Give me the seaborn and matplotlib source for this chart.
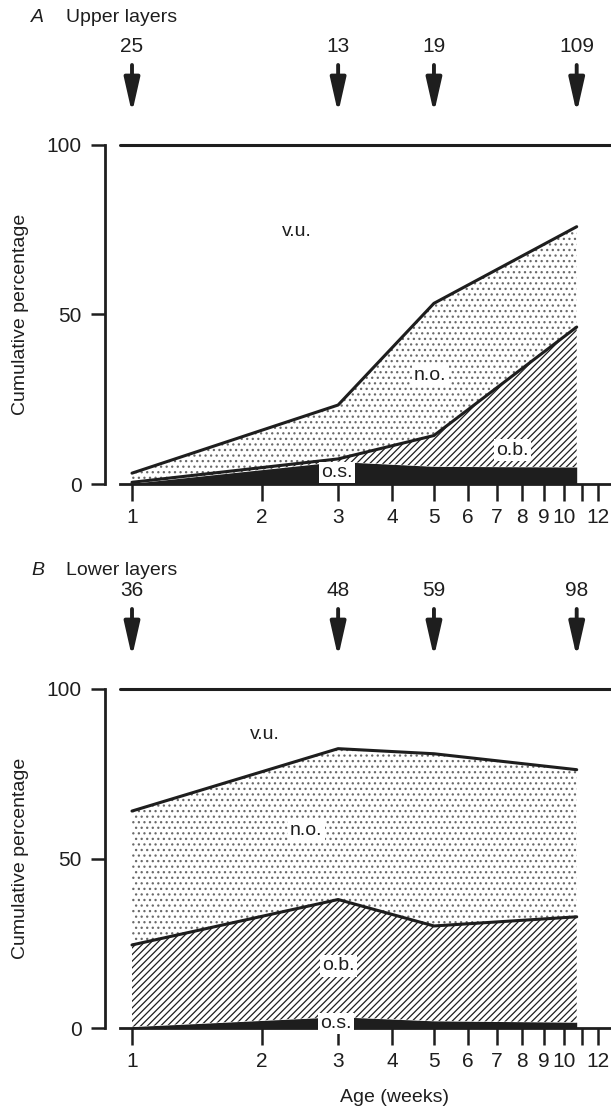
import numpy as np
import matplotlib
matplotlib.use("Agg")
import matplotlib.pyplot as plt
import seaborn as sns

# Age of each sample (weeks) and number of cells sampled at that age
weeks = [1, 3, 5, 10.7]
upper_n = [25, 13, 19, 109]
lower_n = [36, 48, 59, 98]

# Cumulative percentages (o.s. -> +o.b. -> +n.o.; remainder v.u.)
upper_os = [0.2, 6.6, 5.2, 5.0]
upper_ob = [0.5, 7.4, 14.3, 46.3]
upper_no = [3.2, 23.3, 53.3, 75.9]

lower_os = [0.4, 3.3, 2.1, 1.7]
lower_ob = [24.5, 37.9, 30.1, 32.8]
lower_no = [64.0, 82.4, 80.9, 76.2]

x_ticks = [1, 2, 3, 4, 5, 6, 7, 8, 9, 10, 11, 12]
x_labels = ["1", "2", "3", "4", "5", "6", "7", "8", "9", "10", "", "12"]
y_ticks = [0, 50, 100]

sns.set_theme(style="white")
plt.rcParams["font.family"] = ["Liberation Sans", "DejaVu Sans"]
plt.rcParams["hatch.linewidth"] = 0.9
plt.rcParams["hatch.color"] = "#222222"

INK = "#1e1e1e"
W, H = 611, 1109
fig = plt.figure(figsize=(W / 100, H / 100), dpi=100)

ax_left = 120 / W
ax_w = (611 - 120) / W
xlim = (10 ** (-12 / 432), 10 ** (479 / 432))


def panel(ax, os_c, ob_c, no_c, counts, labels):
    ax.set_xscale("log")
    ax.set_xlim(*xlim)
    ax.set_ylim(0, 100)

    # stacked layers
    ax.fill_between(weeks, 0, os_c, color=INK, lw=0)
    ax.fill_between(weeks, os_c, ob_c, facecolor="white", edgecolor=INK,
                    hatch="/////", lw=0)
    ax.fill_between(weeks, ob_c, no_c, facecolor="white", edgecolor="#6a6a6a",
                    hatch="...", lw=0)
    sns.lineplot(x=weeks, y=ob_c, ax=ax, color=INK, lw=2.2)
    sns.lineplot(x=weeks, y=no_c, ax=ax, color=INK, lw=2.2)
    ax.axhline(100, color=INK, lw=2.2, clip_on=False)

    # category labels
    for (lx, ly, txt, boxed) in labels:
        kw = {}
        if boxed:
            kw["bbox"] = dict(facecolor="white", edgecolor="none", pad=1.5)
        ax.text(lx, ly, txt, ha="center", va="center", fontsize=14,
                color=INK, **kw)

    # sample sizes with arrows
    for wx, n in zip(weeks, counts):
        ax.annotate("", xy=(wx, 109.4), xytext=(wx, 123.6),
                    arrowprops=dict(arrowstyle="-|>,head_width=0.26,head_length=1.15",
                                    lw=2.8, color=INK, mutation_scale=18,
                                    shrinkA=0, shrinkB=0),
                    annotation_clip=False)
        ax.text(wx, 129.0, str(n), ha="center", va="center", fontsize=15,
                color=INK, clip_on=False)

    # axes styling
    for s in ("top", "right"):
        ax.spines[s].set_visible(False)
    ax.spines["left"].set_position(("outward", 10.8))
    ax.spines["left"].set_bounds(0, 100)
    for s in ("left", "bottom"):
        ax.spines[s].set_color(INK)
        ax.spines[s].set_linewidth(2.0)
    ax.set_xticks(x_ticks)
    ax.set_xticklabels(x_labels)
    ax.xaxis.set_minor_locator(matplotlib.ticker.NullLocator())
    ax.set_yticks(y_ticks)
    ax.tick_params(axis="x", direction="out", length=12.5, width=1.8,
                   color=INK, labelsize=15, pad=5, labelcolor=INK, bottom=True)
    ax.tick_params(axis="y", direction="out", length=10, width=1.8,
                   color=INK, labelsize=15, pad=7, labelcolor=INK, left=True)
    ax.set_ylabel("Cumulative percentage", fontsize=14, color=INK, va="center")
    ax.yaxis.set_label_coords((21 - 120) / 491, 0.5)
    ax.grid(False)


axA = fig.add_axes([ax_left, (H - 484) / H, ax_w, 339 / H])
axB = fig.add_axes([ax_left, (H - 1028) / H, ax_w, 339 / H])

panel(axA, upper_os, upper_ob, upper_no, upper_n,
      [(2.41, 74.5, "v.u.", False), (4.9, 32.0, "n.o.", True),
       (7.6, 10.0, "o.b.", True), (2.98, 3.3, "o.s.", True)])
panel(axB, lower_os, lower_ob, lower_no, lower_n,
      [(2.03, 86.7, "v.u.", False), (2.53, 58.4, "n.o.", True),
       (3.0, 18.3, "o.b.", True), (2.97, 1.4, "o.s.", True)])

axB.set_xlabel("Age (weeks)", fontsize=14, color=INK, va="center")
axB.xaxis.set_label_coords((395 - 120) / 491, (1028 - 1097) / 339)

fig.text(31 / W, 1 - 17 / H, "A", style="italic", fontsize=14, va="center",
         color=INK)
fig.text(66 / W, 1 - 17 / H, "Upper layers", fontsize=14, va="center",
         color=INK)
fig.text(31 / W, 1 - 570 / H, "B", style="italic", fontsize=14, va="center",
         color=INK)
fig.text(66 / W, 1 - 570 / H, "Lower layers", fontsize=14, va="center",
         color=INK)

fig.savefig("out.png", dpi=100, facecolor="white")
